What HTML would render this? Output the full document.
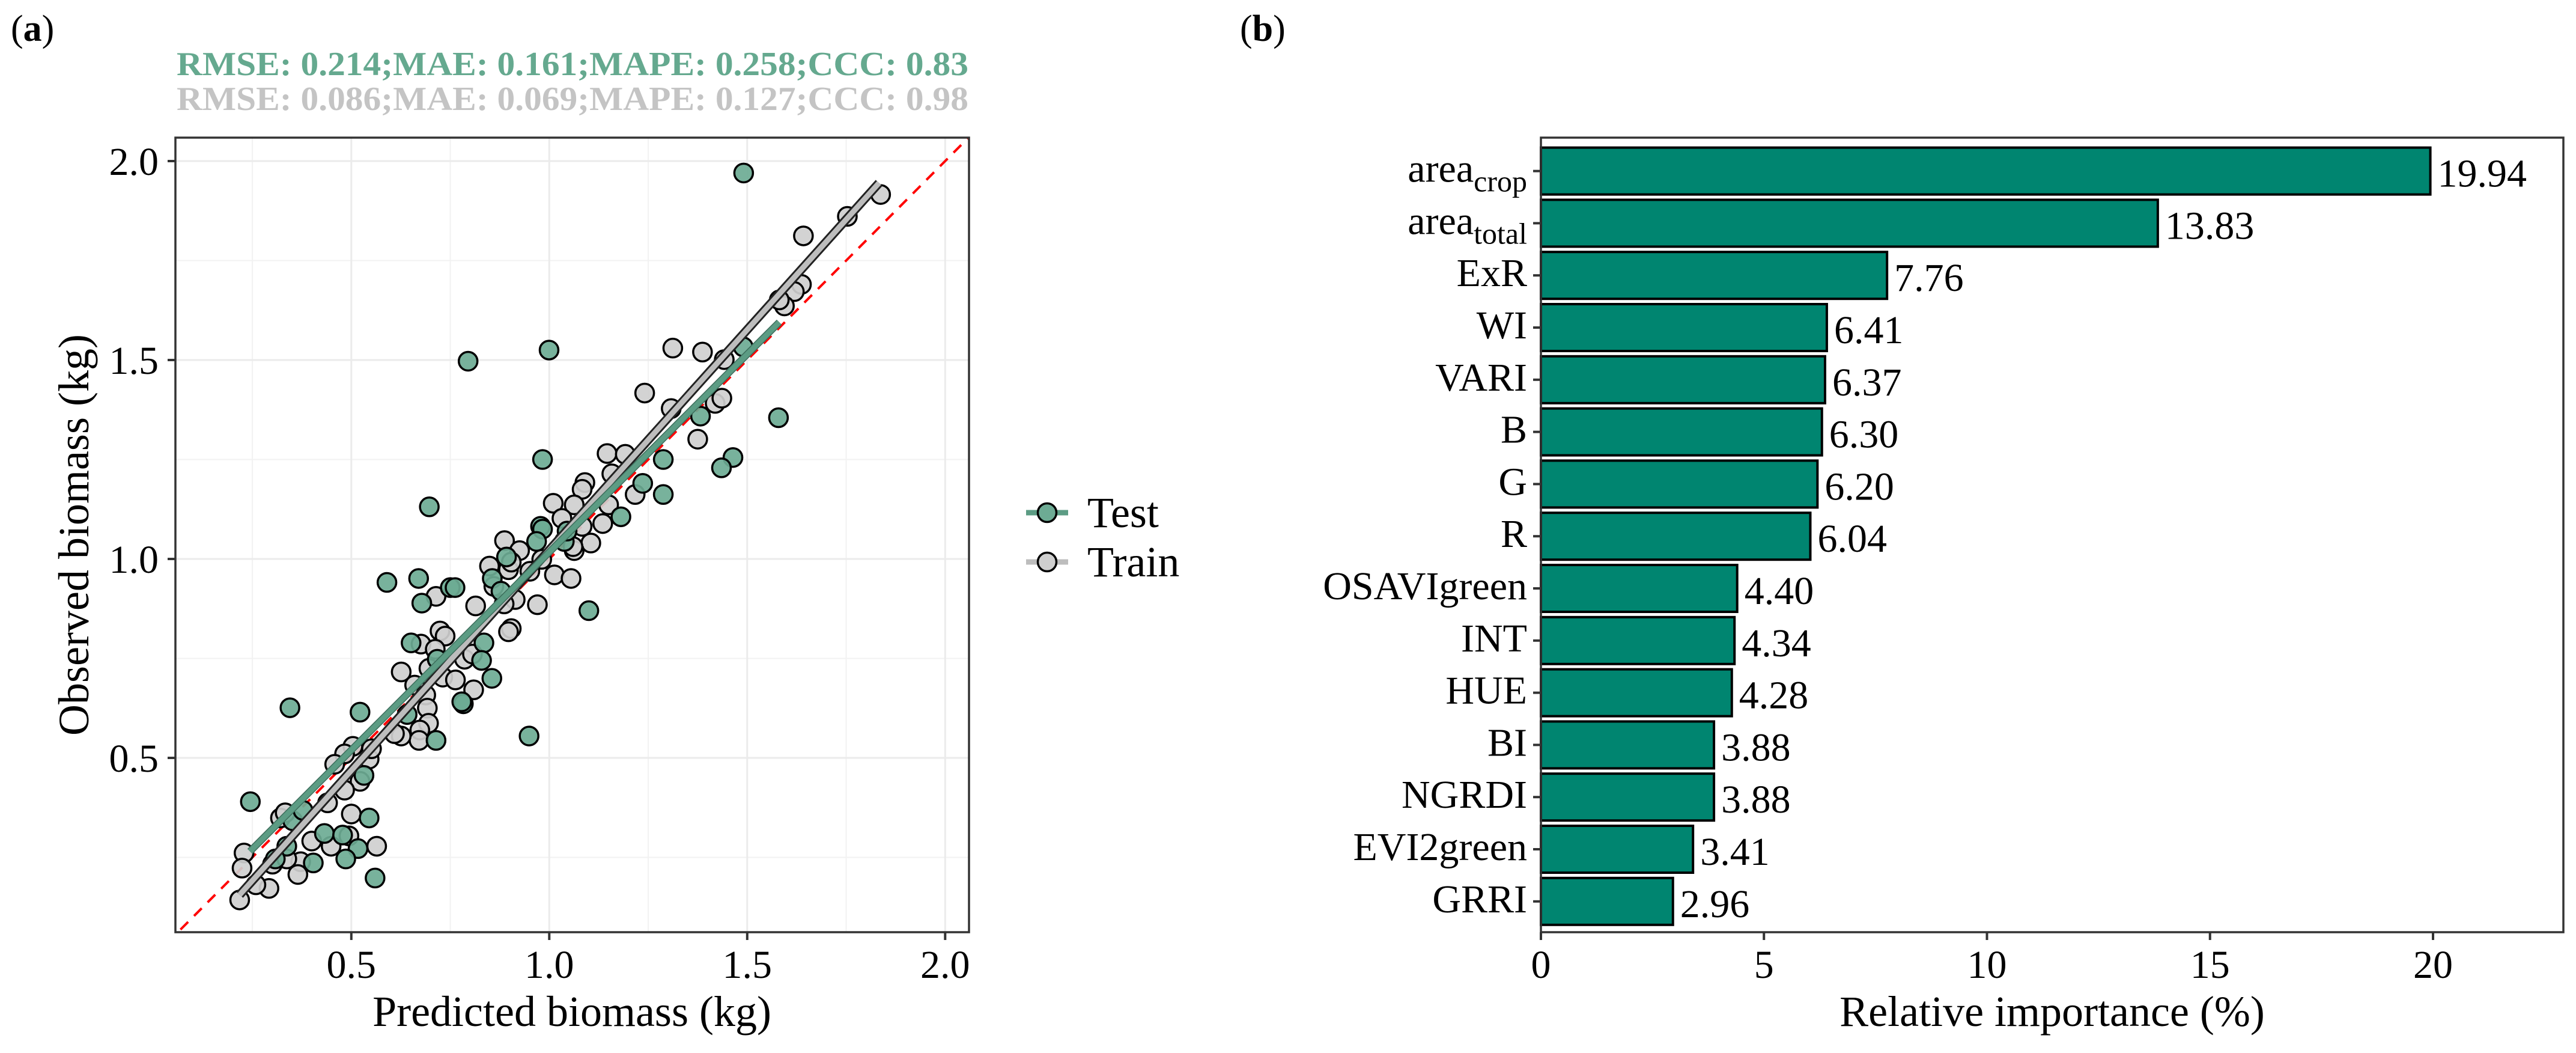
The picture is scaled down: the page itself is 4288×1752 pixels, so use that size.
<!DOCTYPE html>
<html><head><meta charset="utf-8">
<style>
html,body{margin:0;padding:0;background:#fff;}
svg{display:block;font-family:"Liberation Serif",serif;}
</style></head>
<body>
<svg id="chart" width="4288" height="1752" viewBox="0 0 4288 1752" xmlns="http://www.w3.org/2000/svg">
<rect width="4288" height="1752" fill="#fff"/>
<text x="18" y="68" font-size="62">(<tspan font-weight="bold">a</tspan>)</text>
<text x="2064" y="68" font-size="62">(<tspan font-weight="bold">b</tspan>)</text>
<text x="294" y="125" font-size="56" font-weight="bold" fill="#65a98f" textLength="1318" lengthAdjust="spacingAndGlyphs">RMSE: 0.214;MAE: 0.161;MAPE: 0.258;CCC: 0.83</text>
<text x="294" y="183" font-size="56" font-weight="bold" fill="#c4c4c4" textLength="1318" lengthAdjust="spacingAndGlyphs">RMSE: 0.086;MAE: 0.069;MAPE: 0.127;CCC: 0.98</text>
<g id="pa"></g>
<g id="pb"></g>
</svg>
<script>
// ---------- Panel (a) data ----------
const testX=[1.491,0.9995,0.795,1.579,0.983,1.464,1.435,1.288,1.288,1.236,1.181,1.382,1.490,0.697,1.100,0.978,0.983,0.968,1.038,0.892,0.856,0.590,0.670,0.678,0.750,0.762,0.878,0.651,0.835,0.829,0.855,0.717,0.783,0.779,0.949,0.714,0.641,0.522,0.345,0.532,0.245,0.545,0.432,0.478,0.517,0.486,0.404,0.560,0.337,0.352,0.378,0.308,1.045];
const testY=[1.970,1.525,1.497,1.355,1.250,1.255,1.229,1.250,1.162,1.190,1.106,1.359,1.533,1.131,0.870,1.082,1.075,1.044,1.044,1.005,0.951,0.941,0.951,0.889,0.928,0.928,0.919,0.789,0.789,0.745,0.700,0.748,0.636,0.641,0.555,0.544,0.609,0.615,0.626,0.456,0.390,0.349,0.310,0.306,0.272,0.246,0.236,0.198,0.278,0.342,0.368,0.246,1.070];
const trainX=[1.837,1.753,1.642,1.637,1.619,1.594,1.581,1.312,1.387,1.442,1.241,1.308,1.419,1.436,1.375,1.146,1.192,1.158,1.090,1.083,1.217,1.150,1.010,1.063,1.032,1.135,1.083,1.105,1.063,1.060,0.887,0.925,0.849,0.897,0.904,0.951,1.013,1.055,0.981,0.914,0.970,0.814,0.886,0.860,0.714,0.724,0.737,0.904,0.897,0.676,0.712,0.786,0.806,0.626,0.696,0.731,0.763,0.809,0.660,0.688,0.692,0.695,0.673,0.671,0.626,0.609,0.504,0.545,0.551,0.483,0.458,0.522,0.483,0.440,0.500,0.321,0.333,0.494,0.564,0.400,0.372,0.365,0.301,0.229,0.224,0.292,0.259,0.218,0.449,0.337];
const trainY=[1.916,1.861,1.812,1.690,1.672,1.636,1.651,1.530,1.520,1.501,1.417,1.378,1.391,1.404,1.301,1.265,1.263,1.214,1.192,1.175,1.162,1.136,1.140,1.136,1.102,1.089,1.082,1.040,1.021,1.031,1.046,1.021,0.982,0.973,0.992,0.969,0.960,0.951,0.999,0.898,0.885,0.882,0.887,0.931,0.906,0.819,0.806,0.825,0.817,0.786,0.773,0.748,0.761,0.716,0.725,0.703,0.696,0.671,0.683,0.658,0.625,0.587,0.570,0.544,0.555,0.561,0.529,0.497,0.523,0.510,0.484,0.441,0.419,0.387,0.359,0.349,0.362,0.304,0.278,0.291,0.239,0.207,0.233,0.261,0.223,0.172,0.181,0.143,0.278,0.246];
const trainFitX=[0.218,1.833];
const trainFitY=[0.156,1.945];
const testFitX=[0.244,1.581];
const testFitY=[0.265,1.595];
const xTicksA=[0.5,1.0,1.5,2.0];
const yTicksA=[0.5,1.0,1.5,2.0];
const xTickLabelsA=["0.5","1.0","1.5","2.0"];
const yTickLabelsA=["0.5","1.0","1.5","2.0"];

// ---------- Panel (b) data ----------
const features=["area_crop","area_total","ExR","WI","VARI","B","G","R","OSAVIgreen","INT","HUE","BI","NGRDI","EVI2green","GRRI"];
const importance=[19.94,13.83,7.76,6.41,6.37,6.30,6.20,6.04,4.40,4.34,4.28,3.88,3.88,3.41,2.96];
const valueLabels=["19.94","13.83","7.76","6.41","6.37","6.30","6.20","6.04","4.40","4.34","4.28","3.88","3.88","3.41","2.96"];
const xTicksB=[0,5,10,15,20];
const xTickLabelsB=["0","5","10","15","20"];

const NS="http://www.w3.org/2000/svg";
function mk(parent,tag,attrs){const e=document.createElementNS(NS,tag);for(const k in attrs)e.setAttribute(k,attrs[k]);parent.appendChild(e);return e;}

// ----- Panel a -----
const pa=document.getElementById('pa');
const L=292,R=1613,T=229,B=1551;
const xa=v=>255.3+659*v;
const ya=v=>1592-662*v;
const clip=mk(pa,'clipPath',{id:'clipA'});
mk(clip,'rect',{x:L,y:T,width:R-L,height:B-T});
const grid=mk(pa,'g',{});


[0.25,0.75,1.25,1.75].forEach(v=>{
  mk(grid,'line',{x1:xa(v),x2:xa(v),y1:T,y2:B,stroke:'#f2f2f2','stroke-width':2});
  mk(grid,'line',{x1:L,x2:R,y1:ya(v),y2:ya(v),stroke:'#f2f2f2','stroke-width':2});
});
xTicksA.forEach(v=>mk(grid,'line',{x1:xa(v),x2:xa(v),y1:T,y2:B,stroke:'#ebebeb','stroke-width':3}));
yTicksA.forEach(v=>mk(grid,'line',{x1:L,x2:R,y1:ya(v),y2:ya(v),stroke:'#ebebeb','stroke-width':3}));

const plotG=mk(pa,'g',{'clip-path':'url(#clipA)'});
const idl=mk(plotG,'line',{x1:xa(0),y1:ya(0),x2:xa(2.2),y2:ya(2.2),stroke:'#ff0000','stroke-width':4,'stroke-dasharray':'18 14'});



function drawPts(xs,ys,fill,name){
  const g=mk(plotG,'g',{});
  
  
  xs.forEach((x,i)=>{
    const c=mk(g,'circle',{cx:xa(x),cy:ya(ys[i]),r:15.5,fill:fill,stroke:'#000','stroke-width':3.5,'fill-opacity':0.92});
    
    
  });
}
drawPts(trainX,trainY,'#cfcfcf','train-points');
drawPts(testX,testY,'#6dab94','test-points');

const tf1=mk(plotG,'line',{x1:xa(trainFitX[0]),y1:ya(trainFitY[0]),x2:xa(trainFitX[1]),y2:ya(trainFitY[1]),stroke:'#222','stroke-width':15});


const tf2=mk(plotG,'line',{x1:xa(trainFitX[0]),y1:ya(trainFitY[0]),x2:xa(trainFitX[1]),y2:ya(trainFitY[1]),stroke:'#bdbdbd','stroke-width':9});


const ef0=mk(plotG,'line',{x1:xa(testFitX[0]),y1:ya(testFitY[0]),x2:xa(testFitX[1]),y2:ya(testFitY[1]),stroke:'#3d6e5c','stroke-width':12});


const ef=mk(plotG,'line',{x1:xa(testFitX[0]),y1:ya(testFitY[0]),x2:xa(testFitX[1]),y2:ya(testFitY[1]),stroke:'#5c9c84','stroke-width':9});



const boxA=mk(pa,'rect',{x:L,y:T,width:R-L,height:B-T,fill:'none',stroke:'#333','stroke-width':3.5});



xTicksA.forEach((v,i)=>{
  mk(pa,'line',{x1:xa(v),x2:xa(v),y1:B,y2:B+13,stroke:'#333','stroke-width':4});
  const t=mk(pa,'text',{x:xa(v),y:1627,'font-size':66,'text-anchor':'middle'});
  t.textContent=xTickLabelsA[i];
  
  
});
yTicksA.forEach((v,i)=>{
  mk(pa,'line',{x1:L-13,x2:L,y1:ya(v),y2:ya(v),stroke:'#333','stroke-width':4});
  const t=mk(pa,'text',{x:264,y:ya(v)+23,'font-size':66,'text-anchor':'end'});
  t.textContent=yTickLabelsA[i];
  
  
});
const xtA=mk(pa,'text',{x:952,y:1707,'font-size':72,'text-anchor':'middle'});
xtA.textContent='Predicted biomass (kg)';


const ytA=mk(pa,'text',{x:0,y:0,'font-size':72,'text-anchor':'middle',transform:'translate(147,890) rotate(-90)'});
ytA.textContent='Observed biomass (kg)';



[['Test','#5c9c84','#6dab94',853],['Train','#bdbdbd','#cfcfcf',935]].forEach(d=>{
  const g=mk(pa,'g',{});
  
  
  mk(g,'line',{x1:1708,x2:1778,y1:d[3],y2:d[3],stroke:d[1],'stroke-width':9});
  mk(g,'circle',{cx:1743,cy:d[3],r:15.5,fill:d[2],stroke:'#000','stroke-width':3.5});
  const t=mk(g,'text',{x:1810,y:d[3]+24,'font-size':72});
  t.textContent=d[0];
});

// ----- Panel b -----
const pb=document.getElementById('pb');
const L2=2565,R2=4267;
const xb=v=>2565+74.25*v;
const yb=i=>284.6+86.8*i;
features.forEach((f,i)=>{
  const bar=mk(pb,'rect',{x:xb(0),y:yb(i)-39,width:xb(importance[i])-xb(0),height:78,fill:'#008570',stroke:'#000','stroke-width':4});
  
  
  const vt=mk(pb,'text',{x:xb(importance[i])+12,y:yb(i)+26,'font-size':66});
  vt.textContent=valueLabels[i];
  
  
  mk(pb,'line',{x1:L2-13,x2:L2,y1:yb(i),y2:yb(i),stroke:'#333','stroke-width':4});
  const lt=mk(pb,'text',{x:2542,y:yb(i)+18,'font-size':66,'text-anchor':'end'});
  
  
  if(f.indexOf('_')>=0){
    const p=f.split('_');
    const a=mk(lt,'tspan',{});a.textContent=p[0];
    const s=mk(lt,'tspan',{'font-size':50,dy:16});s.textContent=p[1];
  } else lt.textContent=f;
});
const boxB=mk(pb,'rect',{x:L2,y:T,width:R2-L2,height:B-T,fill:'none',stroke:'#333','stroke-width':3.5});


xTicksB.forEach((v,i)=>{
  mk(pb,'line',{x1:xb(v),x2:xb(v),y1:B,y2:B+13,stroke:'#333','stroke-width':4});
  const t=mk(pb,'text',{x:xb(v),y:1627,'font-size':66,'text-anchor':'middle'});
  t.textContent=xTickLabelsB[i];
  
  
});
const xtB=mk(pb,'text',{x:3416,y:1707,'font-size':72,'text-anchor':'middle'});
xtB.textContent='Relative importance (%)';


</script>
</body></html>
